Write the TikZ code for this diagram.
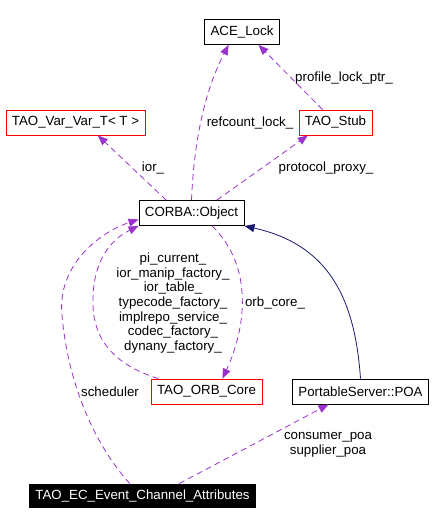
\documentclass[tikz,border=0pt]{standalone}
\usepackage{fontspec}
\setmainfont{Liberation Sans}
\usetikzlibrary{arrows.meta}
\definecolor{usepurple}{RGB}{154,50,205}
\definecolor{inhnavy}{RGB}{25,25,112}
\begin{document}
\begin{tikzpicture}[x=1pt, y=-1pt, font=\fontsize{13.3}{14.7}\selectfont]
    \tikzstyle{cls} = [rectangle, minimum height=25pt, inner xsep=6pt, inner ysep=0pt, text centered, draw=black, line width=0.8pt, fill=white]
    \tikzstyle{clsred} = [cls, draw=red]
    \tikzstyle{clsmain} = [cls, minimum height=23pt, fill=black, text=white]
    \tikzstyle{uses} = [-{Triangle[length=10pt,width=8pt]}, draw=usepurple, line width=0.8pt, dash pattern=on 6pt off 4pt]
    \tikzstyle{inherits} = [-{Triangle[length=10pt,width=8pt]}, draw=inhnavy, line width=0.8pt]
    \tikzstyle{lbl} = [inner sep=0pt, align=center]

    \useasboundingbox (0,0) rectangle (434,526);

    % Classes
    \node [cls] (acelock) at (242,32) {ACE\_Lock};
    \node [clsred] (varvar) at (75.5,122.5) {TAO\_Var\_Var\_T< T >};
    \node [clsred] (stub) at (335.5,122.5) {TAO\_Stub};
    \node [cls] (object) at (191.5,213) {CORBA::Object};
    \node [clsred] (orbcore) at (206.5,391.5) {TAO\_ORB\_Core};
    \node [cls, right of=orbcore, node distance=154pt] (poa) {PortableServer::POA};
    \node [clsmain] (ecattr) at (142.5,495.5) {TAO\_EC\_Event\_Channel\_Attributes};

    % Connections
    \draw [uses] (object.north) .. controls (194,140) and (205,90) .. (acelock.224);
    \draw [uses] (stub.135) -- (acelock.-38);
    \draw [uses] (object.153) -- (varvar.-30);
    \draw [uses] (object.27) -- (stub.205);
    \draw [uses] (object.-32) .. controls (255,268) and (245,330) .. (orbcore.39);
    \draw [uses] (orbcore.165) .. controls (115,365) and (92,340) .. (93,300)
        .. controls (93,262) and (110,240) .. (object.south west);
    \draw [uses] (ecattr.137) .. controls (95,445) and (68,385) .. (62,315)
        .. controls (57,265) and (100,232) .. (object.187);
    \draw [uses] (ecattr.18) -- (poa.202);
    \draw [inherits] (poa.north) .. controls (355,300) and (330,245) .. (object.south east);

    % Member labels
    \node [lbl] (lrefcount) at (250,123) {refcount\_lock\_};
    \node [lbl] (lprofile) at (344,78) {profile\_lock\_ptr\_};
    \node [lbl] (lior) at (153,168) {ior\_};
    \node [lbl] (lproxy) at (326,168) {protocol\_proxy\_};
    \node [lbl] (lorbmembers) at (173,303) {pi\_current\_\\ior\_manip\_factory\_\\ior\_table\_\\typecode\_factory\_\\implrepo\_service\_\\codec\_factory\_\\dynany\_factory\_};
    \node [lbl] (lorbcore) at (275,303) {orb\_core\_};
    \node [lbl] (lsched) at (110,392) {scheduler};
    \node [lbl] (lpoa) at (328,445) {consumer\_poa\\supplier\_poa};
\end{tikzpicture}
\end{document}
